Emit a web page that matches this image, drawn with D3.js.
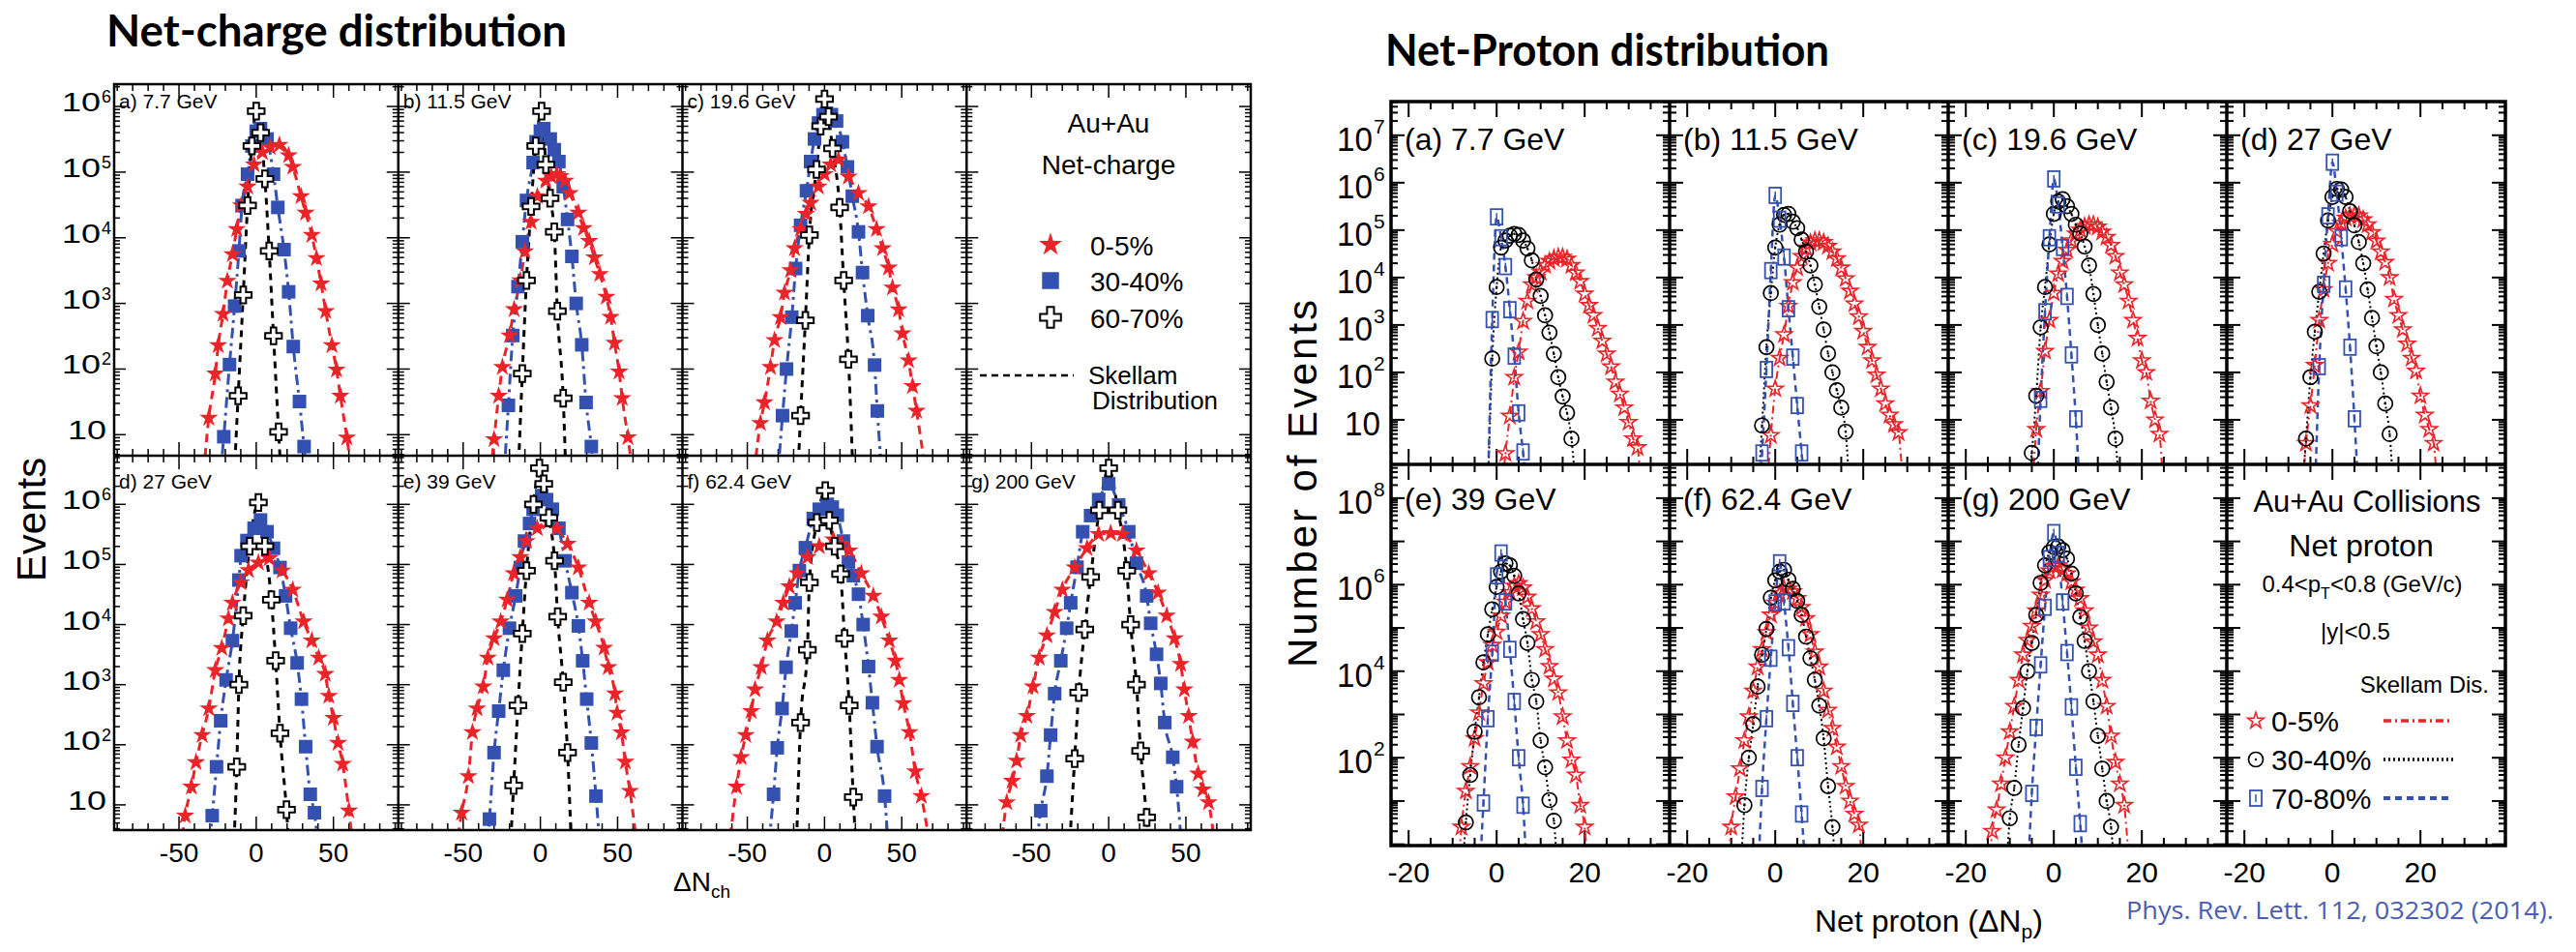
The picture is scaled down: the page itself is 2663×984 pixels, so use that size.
<!DOCTYPE html>
<html>
<head>
<meta charset="utf-8">
<script src="https://cdn.jsdelivr.net/npm/d3@7"></script>
<style>body{margin:0;background:#fff} svg{display:block}</style>
</head>
<body>
<script>
// ---------------- net-charge (left figure) : [ΔNch, events] ----------------
var chargeLabels = ['a) 7.7 GeV', 'b) 11.5 GeV', 'c) 19.6 GeV', 'd) 27 GeV', 'e) 39 GeV', 'f) 62.4 GeV', 'g) 200 GeV'];
var chargeTicksX = [-50, 0, 50];

// 0-5% (red stars)
var chargeCentral = [
	[[-35.5,1],[-30.7,18],[-26.5,85],[-24.6,230],[-21.5,690],[-18.7,2200],[-15.4,5600],[-12.6,1.35e4],[-9.8,3.1e4],[-5.6,6e4],[-1.4,1.3e5],[4,2e5],[9,2.4e5],[15,2.6e5],[21,1.8e5],[23.7,1.2e5],[29,4.3e4],[32,2.4e4],[36,1.1e4],[39,4900],[42,2000],[45,760],[49,230],[52,98],[54.5,39],[58.7,9],[64,1]],
	[[-34,1],[-30,8.5],[-27,39],[-24.6,107],[-20,324],[-17,813],[-13,2240],[-10,6200],[-6,1.74e4],[-2,4.3e4],[3.6,7.4e4],[7,8.7e4],[10.6,9.3e4],[13,8.7e4],[16,7.4e4],[19,4.8e4],[24.6,2.4e4],[28,1.4e4],[31.6,8900],[35,5000],[38.5,2800],[42.7,1260],[45.5,620],[48,250],[51,91],[53,36],[56.7,9.1],[62,1]],
	[[-47.5,1],[-41.5,15],[-38.9,31],[-35,107],[-32.4,275],[-28.5,617],[-25.9,1450],[-22,3200],[-19.4,6900],[-15.5,1.35e4],[-12,2.3e4],[-9,3.4e4],[-4,6e4],[0,9.3e4],[4,1.3e5],[9,1.55e5],[15.5,8.5e4],[22,4.8e4],[28.5,3e4],[33.7,1.35e4],[37.6,6900],[41.5,3500],[44,1740],[48,810],[50.5,350],[54.4,135],[57,55],[59.6,23],[68,1]],
	[[-50,1],[-46,6.6],[-42,20],[-39,51],[-35,145],[-30.7,400],[-26.5,1740],[-22.3,4070],[-18,1.26e4],[-15.4,2.3e4],[-10,5e4],[-5,8e4],[1.4,1.07e5],[8.4,1.26e5],[16.8,7.9e4],[23.7,3.8e4],[30.7,1.12e4],[36,5400],[40.5,2800],[44.7,1500],[47,650],[50,280],[53,107],[56,48],[60,8],[64,1]],
	[[-56,1],[-51,7.4],[-46.6,30],[-44,162],[-41,400],[-37,930],[-34,2800],[-30,5900],[-25.7,1.12e4],[-21.5,2.6e4],[-17.3,7.1e4],[-13,1.32e5],[-9,2.45e5],[-2,4e5],[5,5.1e5],[10.6,4e5],[17.6,2.2e5],[24.6,8.9e4],[31.6,2.3e4],[35.8,1.12e4],[41.3,4100],[44,1950],[48.3,710],[49.7,340],[52.5,160],[55,52],[58,17],[64,1]],
	[[-63,1],[-57,20],[-54,62],[-51,145],[-47.5,363],[-45,830],[-41,1950],[-37,5400],[-31,1.12e4],[-26.7,2.3e4],[-22.8,4.3e4],[-17.6,7.1e4],[-11,1.32e5],[-3.4,2e5],[5.7,2.6e5],[11,2.2e5],[16,1.7e5],[23.8,7.1e4],[31.6,3e4],[36.8,1.35e4],[42,5400],[45.9,2500],[48.4,1200],[51,490],[55,162],[58.8,36],[62.7,14],[70,1]],
	[[-71,1],[-66,11],[-62.5,25],[-59.6,54],[-57,145],[-53,300],[-49,930],[-45,2800],[-40,6600],[-35,1.62e4],[-30,3.8e4],[-22,8.9e4],[-14,1.86e5],[-6.5,3.2e5],[1.3,3.3e5],[9,3.2e5],[18,1.7e5],[26,7.1e4],[32,3.4e4],[37.6,1.41e4],[42.7,5900],[46.6,2200],[49,830],[51.8,300],[54.4,112],[58,33],[61,18],[64.7,11],[70,1]]
];
// 30-40% (blue squares)
var chargeMid = [
	[[-24.5,1],[-21,9.3],[-17.3,117],[-14,910],[-11.2,6300],[-9.2,3.1e4],[-5.6,9.3e4],[-2.8,2.5e5],[0,4.2e5],[2.8,4.6e5],[7,3.2e5],[11.2,9.3e4],[14,2.9e4],[18,6600],[21,1500],[24,220],[28,32],[31,6.6],[35,1]],
	[[-24.5,1],[-20.7,28],[-17.9,324],[-14.5,1800],[-11.7,8700],[-9,3.7e4],[-4.7,1.4e5],[-2.8,2.9e5],[0,4.2e5],[2.2,4.6e5],[6.4,3.2e5],[9,2.2e5],[12,1.45e5],[14.8,6e4],[17.6,1.9e4],[20.4,5200],[23.2,1000],[26.8,234],[29.6,31],[33,6.6],[36,1]],
	[[-31.5,1],[-27.2,19.5],[-24.6,100],[-21.2,617],[-18.7,3400],[-15.5,1.55e4],[-11.7,5.2e4],[-9,1.45e5],[-6.5,3.2e5],[-3.9,5.6e5],[-1,7.5e5],[1.3,7.9e5],[4.5,7.5e5],[7.8,6e5],[11.6,2.9e5],[14.8,1.2e5],[18,4.3e4],[22,1.23e4],[24.6,2950],[28,650],[32.4,115],[34.2,23],[38.5,1]],
	[[-32,1],[-28.5,6.6],[-25.7,43],[-23,251],[-19.5,1200],[-15.4,5400],[-11.2,5.5e4],[-9.8,1.4e5],[-6,2.5e5],[-1.4,4e5],[2.8,5.5e5],[7,3.5e5],[11.2,1.86e5],[15.4,8.9e4],[19,3e4],[22.3,8700],[26.5,2300],[29.3,575],[32,93],[35,15],[37.7,7.4],[41,1]],
	[[-35.5,1],[-33,5.8],[-30,74],[-27,363],[-24,1740],[-20,8700],[-16,3e4],[-13,8.9e4],[-10.3,2.45e5],[-7,4.8e5],[-4.7,8.3e5],[0.8,1.4e6],[4,1.2e6],[7.8,8.3e5],[12,4e5],[16,1.15e5],[20.4,3.4e4],[24.6,9500],[27.4,2500],[30,575],[33,107],[36,14],[39.5,1]],
	[[-37.5,1],[-33,15],[-30.6,89],[-27.5,400],[-24.9,1950],[-21.5,7800],[-19,2.3e4],[-16.3,7.9e4],[-12.4,1.9e5],[-7.3,5.8e5],[-3.4,8.3e5],[1.8,1e6],[5,9e5],[8.3,6.6e5],[12.2,2.45e5],[15.5,1.1e5],[18.7,6.5e4],[22,3.2e4],[25,1e4],[28.5,2000],[31,500],[34,93],[38.9,14],[42,1]],
	[[-48,1],[-44,8],[-40,30],[-37.6,145],[-35,710],[-31,2500],[-27.2,8700],[-24.6,2.3e4],[-20.5,9e4],[-16.8,3.5e5],[-11.7,6.5e5],[-6.5,1.2e6],[0,2.2e6],[6.5,9.8e5],[13,3.5e5],[18,1.05e5],[24.6,3e4],[27.2,1.05e4],[31,3200],[33.7,1050],[36.3,234],[41.5,62],[44,20],[48,1]]
];
// 60-70% (open crosses)
var chargePeriph = [
	[[-15,1],[-11.7,39],[-8.4,1350],[-5.6,3.1e4],[-2.8,2.5e5],[0,8.5e5],[2.8,4e5],[5.6,7.9e4],[8.4,6300],[11.2,320],[14.5,11],[17,1]],
	[[-15,1],[-11.7,85],[-9,2240],[-6,3e4],[-3,2.5e5],[0.8,8.5e5],[3.6,1.3e5],[6.3,4e4],[9,1.23e4],[11,760],[14.8,36],[17,1]],
	[[-18,1],[-15.5,19.5],[-12.4,550],[-9.8,1.1e4],[-5.2,1.1e5],[-2.5,5e5],[0,1.3e6],[2.6,7e5],[5.2,2.3e5],[9.8,2.9e4],[12.4,2240],[15.5,141],[19,1]],
	[[-15,1],[-12.6,43],[-11.2,1000],[-8.4,1.4e4],[-4.2,2e5],[1.4,1.07e6],[5.6,2e5],[9.8,2.6e4],[12.6,2500],[15.4,155],[19.6,8.3],[22,1]],
	[[-20,1],[-17.3,21],[-14.5,450],[-11.7,7100],[-9,7.9e4],[-4.5,1e6],[-0.6,4e6],[2.2,2.2e6],[5.5,6e5],[9.2,1.15e5],[11.2,1.35e4],[14.8,1100],[17.6,74],[20.5,1]],
	[[-18.5,1],[-15.5,234],[-11.1,3800],[-9.8,5e4],[-5,5e5],[0.5,1.7e6],[3.1,5.4e5],[6.5,2e5],[10.4,6.9e4],[13,5900],[16,450],[18.6,13.5],[21,1]],
	[[-26,1],[-22,59],[-19.4,740],[-15.5,8300],[-11.7,6.2e4],[-6,8e5],[0,4e6],[6,8e5],[11.7,7.9e4],[14.2,1e4],[18,1000],[20.7,79],[24.6,6.2],[27,1]]
];

// ---------------- net-proton (right figure) : counts per integer ΔNp ----------------
var protonLabels = ['(a) 7.7 GeV', '(b) 11.5 GeV', '(c) 19.6 GeV', '(d) 27 GeV', '(e) 39 GeV', '(f) 62.4 GeV', '(g) 200 GeV'];
var protonTicksX = [-20, 0, 20];

// 0-5% (open red stars), first bin of each panel in protonCentralStart
var protonCentralStart = [1, -2, -5, -7, -9, -11, -15];
var protonCentral = [
	[0.2,1.95,12,79,270,1200,3200,7100,1e4,1.3e4,1.8e4,2.2e4,2.5e4,2.7e4,2.7e4,2.45e4,1.8e4,1.26e4,8300,4500,2600,1600,850,460,245,132,63,35,18,8.9,4,2.6,0.2],
	[0.2,4.7,45,200,630,2500,7900,1.6e4,2.8e4,4.2e4,5.4e4,6e4,6e4,5.5e4,4.6e4,3.5e4,2.5e4,1.6e4,9500,5200,2800,1500,740,340,178,89,45,22,12.6,8,5.4,0.6,0.2],
	[0.2,6.3,40,280,1260,4700,1.2e4,2.2e4,3.8e4,6e4,8.3e4,1e5,1.2e5,1.3e5,1.3e5,1.17e5,9.1e4,7.1e4,4.8e4,2.8e4,1.26e4,7100,3200,1260,525,178,100,25,10,5,0.2],
	[0.2,3.2,20,141,1260,5600,2e4,5e4,9.5e4,1.4e5,1.8e5,2e5,2.1e5,2e5,1.66e5,1.3e5,8.9e4,5.9e4,3.5e4,2.1e4,1e4,3500,1600,800,400,200,107,32,12.6,6.3,3.2,0.2],
	[0.1,2.5,17,63,280,1100,5200,1.6e4,4e4,8.1e4,1.9e5,4e5,6.6e5,9.3e5,1.07e6,8.5e5,5.2e5,2.8e5,1.4e5,7.1e4,3.2e4,1.3e4,6600,3200,890,250,89,40,8,2.5,0.1],
	[0.1,2.5,12.6,56,250,890,3500,1.26e4,3.2e4,7.9e4,2e5,3.8e5,6.3e5,8e5,8e5,6.9e5,4.8e5,3e5,1.66e5,7.1e4,2.8e4,1.26e4,3500,1260,480,178,63,22,10,5,2.8,0.1],
	[0.1,2,6.3,25,100,400,1550,6200,2.4e4,5.2e4,1.1e5,2.5e5,5.8e5,1.26e6,2.1e6,2.7e6,2.75e6,2.2e6,1.8e6,1.17e6,7.6e5,4.8e5,2.5e5,1e5,4.8e4,2.4e4,6200,1550,320,79,25,8,0.6,0.1]
];
// 30-40% (open black circles)
var protonMidStart = [-2, -4, -6, -7, -8, -8, -11];
var protonMid = [
	[0.3,195,6300,4.3e4,6e4,7.6e4,8.3e4,7.9e4,6e4,4.1e4,2.3e4,9100,4100,1600,690,245,79,31,14,4,0.3],
	[0.2,7.6,340,4700,4.3e4,1.3e5,2.1e5,2.2e5,1.5e5,1.1e5,6.3e4,3.5e4,1.8e4,7100,2400,800,250,100,42,18,5.6,0.2],
	[0.2,2,32,890,6300,5e4,2.2e5,4e5,4.5e5,3.2e5,2.2e5,1.3e5,8.5e4,4.5e4,1.8e4,4500,1000,250,63,18,4,0.2],
	[0.2,4,79,720,5000,3.2e4,1.6e5,5e5,7.4e5,7.2e5,5e5,2.5e5,1.26e5,5.6e4,2e4,5600,1400,355,100,22,5,0.2],
	[0.1,3.2,40,400,2500,1.6e4,7.1e4,2.7e5,8.9e5,2e6,3.1e6,2.8e6,1.6e6,6.3e5,1.6e5,4.5e4,6300,2000,250,60,10.5,3.5,0.1],
	[0.1,8,100,600,4400,2.4e4,9.5e4,5e5,1.26e6,2e6,2.2e6,1.3e6,8e5,4.2e5,2e5,6.3e4,2e4,6300,1600,280,22,2.5,0.1],
	[0.1,4,20,200,1400,1e4,4.5e4,2e5,1.1e6,2.8e6,5.6e6,7.4e6,7.6e6,6.3e6,4e6,1.8e6,6.3e5,1.8e5,5e4,1e4,2000,320,56,10,2.5,0.1]
];
// 70-80% (open blue squares)
var protonPeriphStart = [-2, -4, -4, -4, -4, -4, -6];
var protonPeriph = [
	[0.3,1300,1.9e5,6.9e4,1.7e4,2100,220,14,2.1,0.2],
	[0.1,2,115,1.4e4,5.4e5,1.7e5,2.7e4,2200,210,20,2,0.2],
	[0.1,27,1900,6.9e4,1.2e6,3.4e5,4.3e4,4000,234,10.5,0.2],
	[0.2,132,7200,2e5,2.7e6,6e5,6.9e4,5750,340,10.5,0.2],
	[0.1,9,800,2.6e4,1.6e6,5.4e6,4e5,3.2e4,2000,100,8,0.1],
	[0.1,19.5,800,2e4,3.8e5,3.2e6,4e5,3.5e4,1800,100,5,0.15],
	[0.1,15,500,1.4e4,3e5,4e6,1.6e7,5e6,4e5,2.7e4,1500,60,3,0.1]
];

var RED = '#ec2329', BLUE = '#3451b2', BLACK = '#000';
var SANS = '"Liberation Sans", Arial, Helvetica, sans-serif';
var HEAD = 'Lato, "Open Sans", sans-serif';

var svg = d3.select('body').append('svg').attr('width', 2663).attr('height', 984);
svg.append('rect').attr('width', 2663).attr('height', 984).attr('fill', '#fff');
var defs = svg.append('defs');

function txt(g, x, y, s, size, opts) {
	opts = opts || {};
	return g.append('text')
		.attr('x', x).attr('y', y)
		.attr('font-family', opts.family || SANS)
		.attr('font-size', size)
		.attr('font-weight', opts.weight || 400)
		.attr('text-anchor', opts.anchor || 'start')
		.attr('fill', opts.fill || '#000')
		.text(s);
}

// builds the 2x4 grid of panels with their ticks; returns panel objects
function buildGrid(opt) {
	var g = svg.append('g');
	var pw = (opt.right - opt.left) / 4;
	var panels = [];
	opt.rows.forEach(function (row, r) {
		for (var c = 0; c < 4; c++) {
			var x = d3.scaleLinear().domain(opt.xDomain).range([opt.left + c * pw, opt.left + (c + 1) * pw]);
			var y = d3.scaleLog().domain(row.domain).range([row.bottom, row.top]);
			var id = opt.id + r + c;
			defs.append('clipPath').attr('id', id).append('rect')
				.attr('x', opt.left + c * pw).attr('y', row.top)
				.attr('width', pw).attr('height', row.bottom - row.top);
			var p = {x: x, y: y, clip: 'url(#' + id + ')', g: g.append('g'), row: r, col: c};
			drawTicks(p, opt);
			panels.push(p);
		}
	});
	return panels;
}

function drawTicks(p, opt) {
	var xr = p.x.range(), yb = p.y.range()[0], yt = p.y.range()[1];
	var xd = p.x.domain(), yd = p.y.domain(), segs = [];
	d3.range(Math.ceil(xd[0] / opt.xStep) * opt.xStep, xd[1], opt.xStep).forEach(function (v) {
		var L = opt.xMajor.indexOf(v) >= 0 ? opt.tick.xMaj : opt.tick.xMin;
		segs.push([p.x(v), yb, p.x(v), yb - L], [p.x(v), yt, p.x(v), yt + L]);
	});
	for (var e = Math.floor(Math.log10(yd[0])); e <= Math.ceil(Math.log10(yd[1])); e++) {
		for (var m = 1; m < 10; m++) {
			var v = m * Math.pow(10, e);
			if (v < yd[0] || v > yd[1]) continue;
			var L = m === 1 ? opt.tick.yMaj : opt.tick.yMin;
			segs.push([xr[0], p.y(v), xr[0] + L, p.y(v)], [xr[1], p.y(v), xr[1] - L, p.y(v)]);
		}
	}
	p.g.append('g').selectAll('line').data(segs).enter().append('line')
		.attr('x1', function (d) { return d[0]; }).attr('y1', function (d) { return d[1]; })
		.attr('x2', function (d) { return d[2]; }).attr('y2', function (d) { return d[3]; })
		.attr('stroke', '#000').attr('stroke-width', opt.tick.w);
}

function drawFrame(opt) {
	var g = svg.append('g').attr('fill', 'none').attr('stroke', '#000').attr('stroke-width', opt.frameW);
	var top = opt.rows[0].top, bottom = opt.rows[1].bottom, pw = (opt.right - opt.left) / 4;
	g.append('rect').attr('x', opt.left).attr('y', top).attr('width', opt.right - opt.left).attr('height', bottom - top);
	for (var c = 1; c < 4; c++) {
		g.append('line').attr('x1', opt.left + c * pw).attr('x2', opt.left + c * pw).attr('y1', top).attr('y2', bottom);
	}
	g.append('line').attr('x1', opt.left).attr('x2', opt.right).attr('y1', opt.rows[0].bottom).attr('y2', opt.rows[0].bottom);
}

function yLabels(p, exps, st) {
	exps.forEach(function (e) {
		var yy = p.y(Math.pow(10, e));
		var xEnd = p.x.range()[0] - st.gap;
		if (e === 1) {
			txt(svg, xEnd + st.oneShift, yy + st.dy, '10', st.size, {anchor: 'end'}).attr('textLength', st.len).attr('lengthAdjust', 'spacingAndGlyphs');
		} else {
			txt(svg, xEnd, yy + st.dy, '10', st.size, {anchor: 'end'}).attr('textLength', st.len).attr('lengthAdjust', 'spacingAndGlyphs');
			txt(svg, xEnd + 1, yy + st.supDy, String(e), st.supSize);
		}
	});
}

function xLabels(p, ticks, y, size) {
	ticks.forEach(function (v) {
		txt(svg, p.x(v), y, String(v), size, {anchor: 'middle'});
	});
}

// markers
function symbolPath(type, size) { return d3.symbol().type(type).size(size)(); }
function mark(g, kind, cx, cy, k) {
	k = k || 1;
	var t = 'translate(' + cx + ',' + cy + ')';
	if (kind === 'starFill') {
		g.append('path').attr('d', symbolPath(d3.symbolStar, 115 * k * k)).attr('transform', t).attr('fill', RED);
	} else if (kind === 'squareFill') {
		var s = 14 * k;
		g.append('rect').attr('x', cx - s / 2).attr('y', cy - s / 2).attr('width', s).attr('height', s).attr('fill', BLUE);
	} else if (kind === 'crossOpen') {
		g.append('path').attr('d', symbolPath(d3.symbolCross, 165 * k * k)).attr('transform', t)
			.attr('fill', '#fff').attr('stroke', '#000').attr('stroke-width', 2);
	} else if (kind === 'starOpen') {
		g.append('path').attr('d', symbolPath(d3.symbolStar, 85 * k * k)).attr('transform', t)
			.attr('fill', 'none').attr('stroke', RED).attr('stroke-width', 1.6);
	} else if (kind === 'circleOpen') {
		g.append('circle').attr('cx', cx).attr('cy', cy).attr('r', 7.5 * k).attr('fill', 'none').attr('stroke', '#000').attr('stroke-width', 1.7);
		g.append('circle').attr('cx', cx).attr('cy', cy).attr('r', 1.2).attr('fill', '#000');
	} else if (kind === 'squareOpen') {
		g.append('rect').attr('x', cx - 6 * k).attr('y', cy - 8 * k).attr('width', 12 * k).attr('height', 16 * k)
			.attr('fill', 'none').attr('stroke', BLUE).attr('stroke-width', 1.8);
		g.append('line').attr('x1', cx).attr('x2', cx).attr('y1', cy - 4 * k).attr('y2', cy + 4 * k).attr('stroke', BLUE).attr('stroke-width', 1.5);
	}
}

function drawCurve(p, pts, st) {
	var line = d3.line()
		.x(function (d) { return p.x(d[0]); })
		.y(function (d) { return p.y(d[1]); })
		.curve(d3.curveMonotoneX);
	p.g.append('path').attr('d', line(pts)).attr('clip-path', p.clip)
		.attr('fill', 'none').attr('stroke', st.color).attr('stroke-width', st.w).attr('stroke-dasharray', st.dash);
}

function drawMarks(p, pts, kind) {
	var mg = p.g.append('g').attr('clip-path', p.clip);
	pts.forEach(function (d) { mark(mg, kind, p.x(d[0]), p.y(d[1])); });
}

function binned(start, counts) {
	return counts.map(function (n, i) { return [start + i, n]; });
}

// ================= left: net-charge =================
var ncOpt = {
	id: 'nc', left: 118, right: 1293, xDomain: [-92, 92], xStep: 10, xMajor: chargeTicksX,
	rows: [
		{top: 87, bottom: 471, domain: [Math.pow(10, 0.68), Math.pow(10, 6.34)]},
		{top: 471, bottom: 858, domain: [Math.pow(10, 0.58), Math.pow(10, 6.81)]}
	],
	tick: {xMaj: 14, xMin: 7, yMaj: 12, yMin: 6, w: 1.5}, frameW: 2.5
};
var ncPanels = buildGrid(ncOpt);
var ncStyles = {
	central: {color: RED, w: 3, dash: '9,6'},
	mid: {color: BLUE, w: 3, dash: '11,5,3,5'},
	periph: {color: BLACK, w: 3, dash: '7,6'}
};
chargeLabels.forEach(function (lab, i) {
	var p = ncPanels[i < 3 ? i : i + 1];
	drawCurve(p, chargeCentral[i], ncStyles.central);
	drawCurve(p, chargeMid[i], ncStyles.mid);
	drawCurve(p, chargePeriph[i], ncStyles.periph);
	drawMarks(p, chargeMid[i], 'squareFill');
	drawMarks(p, chargeCentral[i], 'starFill');
	drawMarks(p, chargePeriph[i], 'crossOpen');
	txt(svg, p.x.range()[0] + 5, p.row === 0 ? 112 : 505, lab, 21);
});
drawFrame(ncOpt);
[0, 4].forEach(function (k) {
	yLabels(ncPanels[k], [1, 2, 3, 4, 5, 6], {gap: 14, dy: 5, supDy: -4, size: 27, supSize: 18, len: 40, oneShift: 6});
});
[4, 5, 6, 7].forEach(function (k) { xLabels(ncPanels[k], chargeTicksX, 891, 28); });

// legend (top-right cell)
txt(svg, 1146, 137, 'Au+Au', 28, {anchor: 'middle'});
txt(svg, 1146, 180, 'Net-charge', 28, {anchor: 'middle'});
[['starFill', '0-5%', 253], ['squareFill', '30-40%', 290], ['crossOpen', '60-70%', 328]].forEach(function (r) {
	mark(svg, r[0], 1086, r[2], 1.25);
	txt(svg, 1127, r[2] + 11, r[1], 28);
});
svg.append('line').attr('x1', 1013).attr('x2', 1110).attr('y1', 388).attr('y2', 388)
	.attr('stroke', '#000').attr('stroke-width', 2.5).attr('stroke-dasharray', '7,5');
txt(svg, 1125, 397, 'Skellam', 26);
txt(svg, 1129, 423, 'Distribution', 26);

// axis titles
txt(svg, 0, 0, 'Events', 42, {anchor: 'middle'}).attr('transform', 'translate(47,537) rotate(-90)');
var dn = txt(svg, 696, 921, 'ΔN', 28);
dn.append('tspan').attr('font-size', 19).attr('dy', 7).text('ch');

// ================= right: net-proton =================
var npOpt = {
	id: 'np', left: 1438, right: 2590, xDomain: [-24, 39.3], xStep: 5, xMajor: protonTicksX,
	rows: [
		{top: 105, bottom: 480, domain: [Math.pow(10, 0.06), Math.pow(10, 7.71)]},
		{top: 480, bottom: 874, domain: [Math.pow(10, -0.03), Math.pow(10, 8.78)]}
	],
	tick: {xMaj: 16, xMin: 8, yMaj: 14, yMin: 7, w: 2}, frameW: 3.5
};
var npPanels = buildGrid(npOpt);
var npStyles = {
	central: {color: RED, w: 2, dash: '8,4,2,4'},
	mid: {color: BLACK, w: 2, dash: '2,3'},
	periph: {color: BLUE, w: 2.5, dash: '7,5'}
};
protonLabels.forEach(function (lab, i) {
	var p = npPanels[i];
	var cen = binned(protonCentralStart[i], protonCentral[i]);
	var mid = binned(protonMidStart[i], protonMid[i]);
	var per = binned(protonPeriphStart[i], protonPeriph[i]);
	drawCurve(p, cen, npStyles.central);
	drawCurve(p, mid, npStyles.mid);
	drawCurve(p, per, npStyles.periph);
	drawMarks(p, cen, 'starOpen');
	drawMarks(p, mid, 'circleOpen');
	drawMarks(p, per, 'squareOpen');
	txt(svg, p.x.range()[0] + 14, p.row === 0 ? 155 : 527, lab, 32);
});
drawFrame(npOpt);
yLabels(npPanels[0], [1, 2, 3, 4, 5, 6, 7], {gap: 19, dy: 16, supDy: -2, size: 35, supSize: 21, len: 37, oneShift: 8});
yLabels(npPanels[4], [2, 4, 6, 8], {gap: 19, dy: 16, supDy: -2, size: 35, supSize: 21, len: 37, oneShift: 8});
[4, 5, 6, 7].forEach(function (k) { xLabels(npPanels[k], protonTicksX, 912, 30); });

// legend (bottom-right cell)
txt(svg, 2447, 529, 'Au+Au Collisions', 31, {anchor: 'middle'});
txt(svg, 2441, 575, 'Net proton', 32, {anchor: 'middle'});
var pt = txt(svg, 2442, 612, '0.4<p', 24, {anchor: 'middle'});
pt.append('tspan').attr('font-size', 16).attr('dy', 7).text('T');
pt.append('tspan').attr('dy', -7).text('<0.8 (GeV/c)');
txt(svg, 2435, 661, '|y|<0.5', 24, {anchor: 'middle'});
txt(svg, 2573, 716, 'Skellam Dis.', 24, {anchor: 'end'});
[['starOpen', '0-5%', 745, npStyles.central], ['circleOpen', '30-40%', 785, npStyles.mid], ['squareOpen', '70-80%', 825, npStyles.periph]].forEach(function (r) {
	mark(svg, r[0], 2332, r[2], 1);
	txt(svg, 2348, r[2] + 11, r[1], 30);
	svg.append('line').attr('x1', 2464).attr('x2', 2536).attr('y1', r[2]).attr('y2', r[2])
		.attr('stroke', r[3].color).attr('stroke-width', r[3].w + 1.5).attr('stroke-dasharray', r[3].dash);
});

var nt = txt(svg, 1876, 963, 'Net proton (ΔN', 32);
nt.append('tspan').attr('font-size', 21).attr('dy', 7).text('p');
nt.append('tspan').attr('dy', -7).text(')');
txt(svg, 0, 0, 'Number of Events', 42, {anchor: 'middle'})
	.attr('textLength', 380).attr('lengthAdjust', 'spacing')
	.attr('transform', 'translate(1361,500) rotate(-90)');

// titles and reference
txt(svg, 110, 48, 'Net-charge distribution', 46, {family: HEAD, weight: 700})
	.attr('textLength', 476).attr('lengthAdjust', 'spacingAndGlyphs');
txt(svg, 1432, 68, 'Net-Proton distribution', 46, {family: HEAD, weight: 700})
	.attr('textLength', 459).attr('lengthAdjust', 'spacingAndGlyphs');
txt(svg, 2198, 950, 'Phys. Rev. Lett. 112, 032302 (2014).', 25, {family: '"Open Sans", sans-serif', fill: '#4a5db3'})
	.attr('textLength', 442).attr('lengthAdjust', 'spacingAndGlyphs');
</script>
</body>
</html>
